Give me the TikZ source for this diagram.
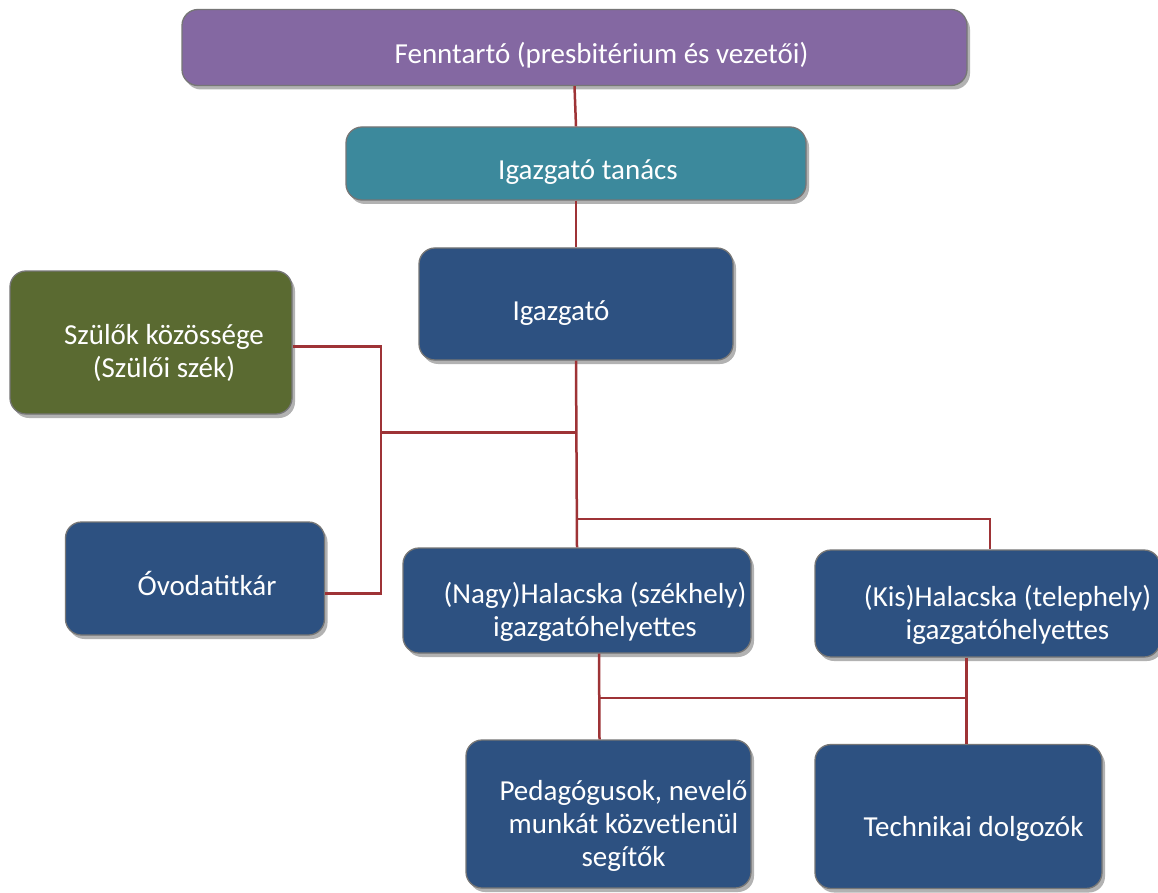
\documentclass[tikz,border=0pt]{standalone}
\usepackage{fontspec}
\setmainfont{Carlito}
\usetikzlibrary{shadows,calc}
\definecolor{cpurple}{HTML}{8468A2}
\definecolor{cteal}{HTML}{3C899C}
\definecolor{cblue}{HTML}{2D5181}
\definecolor{colive}{HTML}{5A6A31}
\definecolor{cline}{HTML}{9E3336}
\definecolor{cedge}{HTML}{767676}
\tikzset{
  box/.style={rectangle, rounded corners=16pt, draw=cedge, line width=1.3pt,
    drop shadow={shadow xshift=3pt, shadow yshift=-4pt, fill=black, opacity=0.3},
    inner sep=0pt},
  lbl/.style={text=white, align=center, font=\fontsize{29}{33}\selectfont},
  conn/.style={draw=cline, line width=2.5pt}
}
\begin{document}
\begin{tikzpicture}[x=1pt,y=-1pt]
\useasboundingbox (0,0) rectangle (1158,893);
\fill[white] (0,0) rectangle (1158,893);

\node[box, fill=cpurple, minimum width=785pt, minimum height=76pt,
  label={[lbl, xshift=27pt, yshift=-8pt]center:Fenntartó (presbitérium és vezetői)}] (fen) at (574.5,47.5) {};
\node[box, fill=cteal, minimum width=460pt, minimum height=73pt,
  label={[lbl, xshift=12pt, yshift=-9pt]center:Igazgató tanács}] (tan) at (576,163.5) {};
\node[box, fill=cblue, minimum width=314pt, minimum height=112pt,
  label={[lbl, xshift=-15pt, yshift=-9pt]center:Igazgató}] (ig) at (576,304) {};
\node[box, fill=colive, minimum width=282pt, minimum height=143pt,
  label={[lbl, xshift=13pt, yshift=-10pt]center:Szülők közössége\\(Szülői szék)}] (sz) at (151,342.5) {};
\node[box, fill=cblue, minimum width=259pt, minimum height=113pt,
  label={[lbl, xshift=12pt, yshift=-5pt]center:Óvodatitkár}] (ov) at (195,578.5) {};
\node[box, fill=cblue, minimum width=348pt, minimum height=105pt,
  label={[lbl, xshift=18pt, yshift=-11pt]center:(Nagy)Halacska (székhely)\\igazgatóhelyettes}] (nagy) at (577,600.5) {};
\node[box, fill=cblue, minimum width=345pt, minimum height=107pt,
  label={[lbl, xshift=20pt, yshift=-11pt]center:(Kis)Halacska (telephely)\\igazgatóhelyettes}] (kis) at (987.5,603.5) {};
\node[box, fill=cblue, minimum width=285pt, minimum height=148pt,
  label={[lbl, xshift=15pt, yshift=-12pt]center:Pedagógusok, nevelő\\munkát közvetlenül\\segítők}] (ped) at (608.5,814) {};
\node[box, fill=cblue, minimum width=287pt, minimum height=144pt,
  label={[lbl, xshift=15pt, yshift=-12pt]center:Technikai dolgozók}] (tech) at (958.5,816.5) {};

% connectors
\draw[conn] (fen.south) -- (tan.north);
\draw[conn] (tan.south) -- (ig.north);
\draw[conn] (ig.south) -- (nagy.north);
\coordinate (b1) at (381,432.5);
\coordinate (b2) at (577,432.5);
\draw[conn] (b1) -- (b2);
\draw[conn] ([yshift=-4pt]sz.east) -| ([xshift=56pt,yshift=-15pt]ov.east) -- ([yshift=-15pt]ov.east);
\coordinate (b3) at (578,519);
\draw[conn] (b3) -| ([xshift=2.5pt]kis.north);
\draw[conn] ([xshift=22pt]nagy.south) -- ([xshift=-9pt]ped.north);
\draw[conn] ([xshift=-21pt]kis.south) -- ([xshift=8pt]tech.north);
\coordinate (b4) at (599,698);
\coordinate (b5) at (966.5,698);
\draw[conn] (b4) -- (b5);
\end{tikzpicture}
\end{document}
